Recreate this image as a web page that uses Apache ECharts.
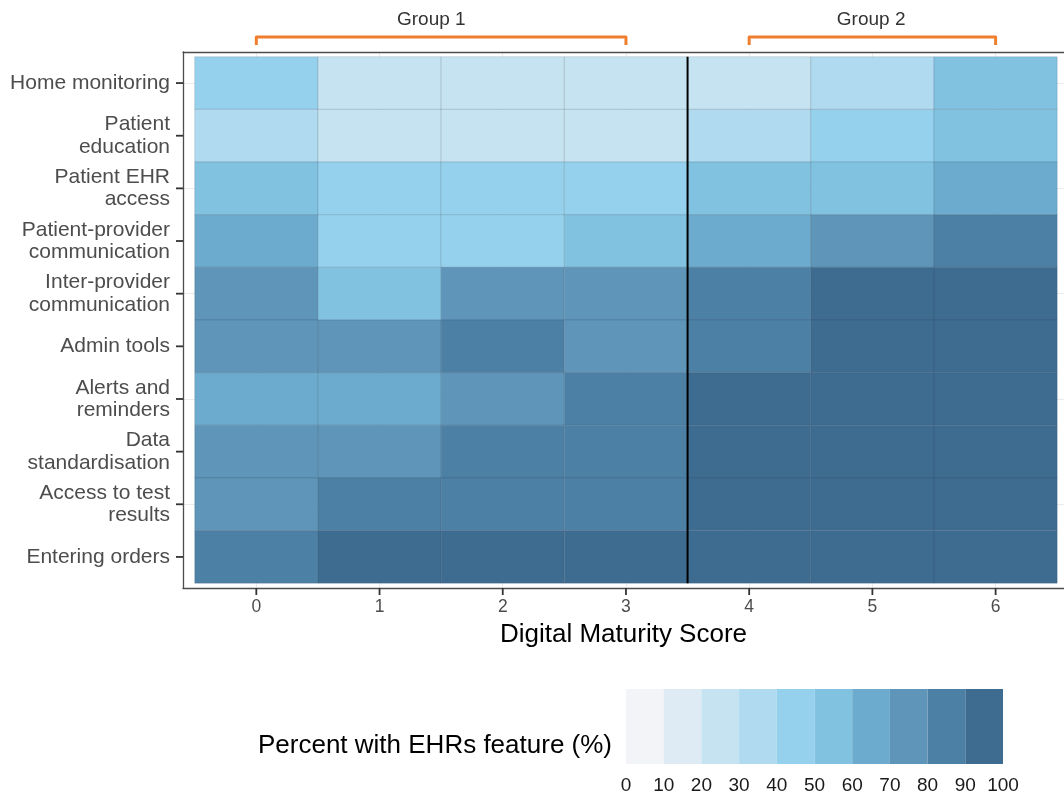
<!DOCTYPE html>
<html>
<head>
<meta charset="utf-8">
<script src="https://cdn.jsdelivr.net/npm/echarts@6/dist/echarts.min.js"></script>
<style>
html,body{margin:0;padding:0;background:#fff;}
#main{width:1064px;height:798px;}
</style>
</head>
<body>
<div id="main"></div>
<script>
// ---- data ----
const scores = [0, 1, 2, 3, 4, 5, 6];
const features = [
  "Home monitoring",
  "Patient\neducation",
  "Patient EHR\naccess",
  "Patient-provider\ncommunication",
  "Inter-provider\ncommunication",
  "Admin tools",
  "Alerts and\nreminders",
  "Data\nstandardisation",
  "Access to test\nresults",
  "Entering orders"
];
// percent with feature, rows = features (top to bottom), cols = scores 0..6
const homeMonitoring      = [45, 25, 24, 23, 26, 35, 55];
const patientEducation    = [35, 22, 25, 24, 36, 44, 56];
const patientEhrAccess    = [55, 45, 46, 44, 54, 57, 65];
const patientProvider     = [64, 46, 45, 55, 65, 74, 84];
const interProvider       = [74, 56, 75, 76, 85, 92, 93];
const adminTools          = [75, 76, 85, 74, 86, 93, 94];
const alertsReminders     = [65, 66, 75, 84, 93, 94, 95];
const dataStandardisation = [76, 75, 84, 85, 94, 95, 96];
const accessTestResults   = [74, 85, 86, 84, 95, 96, 97];
const enteringOrders      = [83, 92, 93, 92, 96, 97, 98];
const rows = [homeMonitoring, patientEducation, patientEhrAccess, patientProvider,
  interProvider, adminTools, alertsReminders, dataStandardisation, accessTestResults, enteringOrders];

const groupSplit = 3.5;
const groups = [
  { label: "Group 1", from: 0, to: 3, labelAt: 1.42 },
  { label: "Group 2", from: 4, to: 6, labelAt: 4.99 }
];
const legendBreaks = [0, 10, 20, 30, 40, 50, 60, 70, 80, 90, 100];

// ---- styles ----
const palette = ['#f2f4f8', '#deebf5', '#c6e3f1', '#afdaef', '#95d1ed',
                 '#80c2e0', '#6cabcd', '#5f95b8', '#4d80a5', '#3e6c91'];
function colorFor(v) {
  let i = Math.floor(v / 10);
  if (i > 9) i = 9; if (i < 0) i = 0;
  return palette[i];
}

const tileData = [];
rows.forEach((r, yi) => r.forEach((v, xi) => tileData.push([scores[xi], yi, v])));
const legendData = [];
for (let i = 0; i < legendBreaks.length - 1; i++) legendData.push([legendBreaks[i], legendBreaks[i + 1]]);

const rowIdx = features.map((_, i) => i);
const FONT = '"Liberation Sans", Arial, sans-serif';
const X_MIN = -0.595, X_MAX = 6.555, Y_MIN = -0.59, Y_MAX = 9.59;
const BORDER = { color: '#4d4d4d', width: 1.3 };

const chart = echarts.init(document.getElementById('main'), null, { renderer: 'canvas' });
chart.setOption({
  animation: false,
  backgroundColor: '#ffffff',
  textStyle: { fontFamily: FONT },
  grid: [
    { left: 183, top: 52, right: 0, height: 536 },
    { left: 626, top: 689, width: 377, height: 75 }
  ],
  xAxis: [
    {
      type: 'value', gridIndex: 0, min: X_MIN, max: X_MAX, position: 'bottom',
      name: 'Digital Maturity Score', nameLocation: 'middle', nameGap: 34,
      nameTextStyle: { fontSize: 26, color: '#000', fontFamily: FONT },
      axisLine: { show: true, onZero: false, lineStyle: BORDER },
      axisTick: { show: false },
      axisLabel: { customValues: scores, fontSize: 17.5, color: '#4d4d4d', margin: 10, fontFamily: FONT },
      splitLine: { show: true, lineStyle: { color: '#ebebeb', width: 1 } }
    },
    {
      type: 'value', gridIndex: 1, min: 0, max: 100, interval: 10,
      axisLine: { show: false }, axisTick: { show: false }, splitLine: { show: false },
      axisLabel: { fontSize: 19, color: '#1a1a1a', margin: 12, fontFamily: FONT, showMinLabel: true, showMaxLabel: true }
    },
    {
      type: 'value', gridIndex: 0, min: X_MIN, max: X_MAX, position: 'top',
      axisLine: { show: true, onZero: false, lineStyle: BORDER },
      axisTick: { show: false }, axisLabel: { show: false }, splitLine: { show: false }
    }
  ],
  yAxis: [
    {
      type: 'value', gridIndex: 0, inverse: true, min: Y_MIN, max: Y_MAX,
      axisLine: { show: true, onZero: false, lineStyle: BORDER },
      axisTick: { show: false },
      axisLabel: {
        customValues: rowIdx, fontSize: 21, lineHeight: 22.5, color: '#4d4d4d', margin: 13, align: 'right', fontFamily: FONT,
        formatter: v => features[Math.round(v)] || ''
      },
      splitLine: { show: true, lineStyle: { color: '#ebebeb', width: 1 } }
    },
    { type: 'value', gridIndex: 1, min: 0, max: 1, show: false }
  ],
  graphic: [
    {
      type: 'text', right: 1064 - 612, top: 733,
      style: { text: 'Percent with EHRs feature (%)', fill: '#000', font: '26px ' + FONT }
    }
  ],
  series: [
    {
      type: 'custom', xAxisIndex: 0, yAxisIndex: 0, data: tileData,
      encode: { x: 0, y: 1 },
      renderItem: function (params, api) {
        const x = api.value(0), y = api.value(1), v = api.value(2);
        const p0 = api.coord([x - 0.5, y - 0.5]);
        const p1 = api.coord([x + 0.5, y + 0.5]);
        return {
          type: 'rect',
          shape: { x: p0[0], y: p0[1], width: p1[0] - p0[0], height: p1[1] - p0[1] },
          style: { fill: colorFor(v), stroke: 'rgba(40,60,80,0.22)', lineWidth: 0.7 }
        };
      }
    },
    {
      type: 'custom', xAxisIndex: 0, yAxisIndex: 0, data: [[groupSplit]],
      encode: { x: 0 },
      renderItem: function (params, api) {
        const x = api.value(0);
        const a = api.coord([x, -0.5]);
        const b = api.coord([x, 9.5]);
        return { type: 'line', shape: { x1: a[0], y1: a[1], x2: b[0], y2: b[1] }, style: { stroke: '#000', lineWidth: 2 } };
      }
    },
    {
      // x-axis tick marks (outside the panel)
      type: 'custom', xAxisIndex: 0, yAxisIndex: 0, clip: false, data: scores.map(s => [s]),
      encode: { x: 0 },
      renderItem: function (params, api) {
        const p = api.coord([api.value(0), Y_MAX]);
        return { type: 'line', shape: { x1: p[0], y1: p[1], x2: p[0], y2: p[1] + 7 }, style: { stroke: '#333', lineWidth: 1.8 } };
      }
    },
    {
      // y-axis tick marks (outside the panel)
      type: 'custom', xAxisIndex: 0, yAxisIndex: 0, clip: false, data: rowIdx.map(r => [X_MIN, r]),
      encode: { x: 0, y: 1 },
      renderItem: function (params, api) {
        const p = api.coord([X_MIN, api.value(1)]);
        return { type: 'line', shape: { x1: p[0] - 7, y1: p[1], x2: p[0], y2: p[1] }, style: { stroke: '#333', lineWidth: 1.8 } };
      }
    },
    {
      type: 'custom', xAxisIndex: 0, yAxisIndex: 0, clip: false,
      data: groups.map(g => [g.from, g.to, g.labelAt]),
      encode: { x: [0, 1] },
      renderItem: function (params, api) {
        const a = api.coord([api.value(0), Y_MIN]);
        const b = api.coord([api.value(1), Y_MIN]);
        const t = api.coord([api.value(2), Y_MIN]);
        const top = a[1];
        const yH = top - 15, yE = top - 7;
        const g = groups[params.dataIndex];
        return {
          type: 'group',
          children: [
            { type: 'polyline', shape: { points: [[a[0], yE], [a[0], yH], [b[0], yH], [b[0], yE]] },
              style: { stroke: '#ef7f2e', lineWidth: 3, fill: null, lineJoin: 'round' } },
            { type: 'text', x: t[0], y: top - 32,
              style: { text: g.label, fill: '#333', font: '19px ' + FONT, align: 'center', verticalAlign: 'middle' } }
          ]
        };
      }
    },
    {
      type: 'custom', xAxisIndex: 1, yAxisIndex: 1, data: legendData,
      encode: { x: [0, 1] },
      renderItem: function (params, api) {
        const lo = api.value(0), hi = api.value(1);
        const p0 = api.coord([lo, 1]);
        const p1 = api.coord([hi, 0]);
        return {
          type: 'rect',
          shape: { x: p0[0], y: p0[1], width: p1[0] - p0[0], height: p1[1] - p0[1] },
          style: { fill: colorFor((lo + hi) / 2) }
        };
      }
    }
  ]
});
</script>
</body>
</html>
